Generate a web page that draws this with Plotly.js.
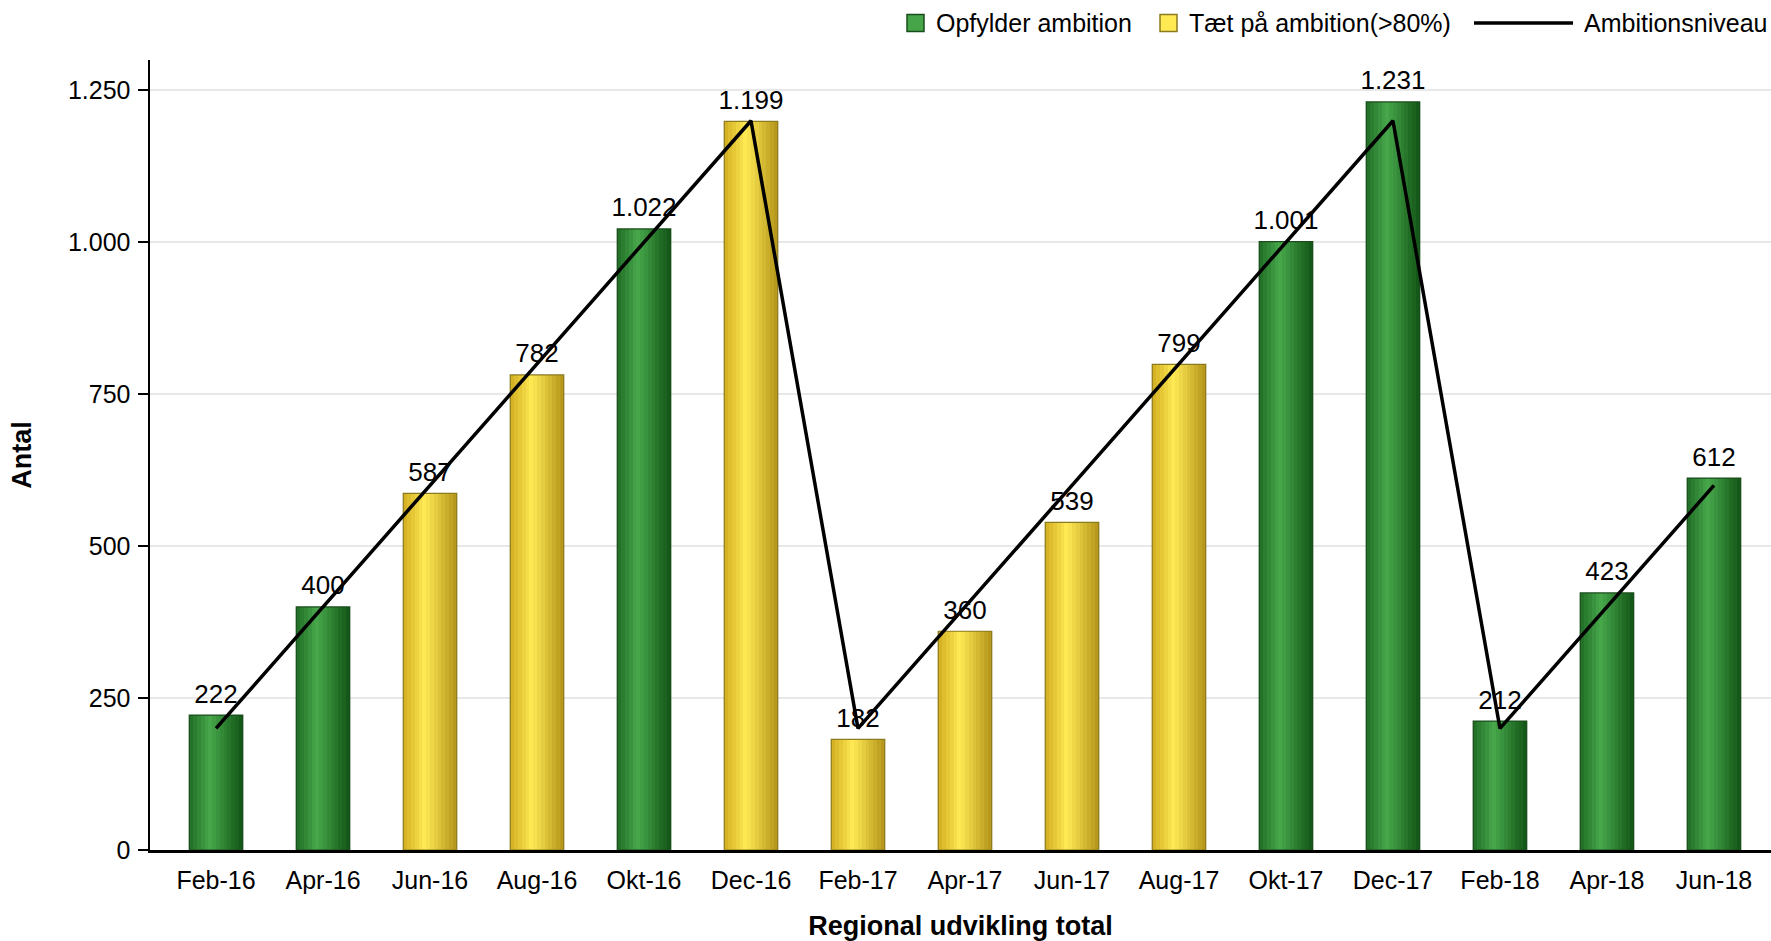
<!DOCTYPE html>
<html>
<head>
<meta charset="utf-8">
<script src="https://cdn.plot.ly/plotly-3.0.1.min.js"></script>
<style>
  html, body { margin: 0; padding: 0; background: #fff; }
  #chart { width: 1771px; height: 941px; }
</style>
</head>
<body>
<div id="chart"></div>
<script>
// Data
const categories = ['Feb-16', 'Apr-16', 'Jun-16', 'Aug-16', 'Okt-16', 'Dec-16', 'Feb-17', 'Apr-17',
                    'Jun-17', 'Aug-17', 'Okt-17', 'Dec-17', 'Feb-18', 'Apr-18', 'Jun-18'];
const antal = [222, 400, 587, 782, 1022, 1199, 182, 360, 539, 799, 1001, 1231, 212, 423, 612];
const ambition = [200, 400, 600, 800, 1000, 1200, 200, 400, 600, 800, 1000, 1200, 200, 400, 600];
const status = ['ok', 'ok', 'near', 'near', 'ok', 'near', 'near', 'near', 'near', 'near',
                'ok', 'ok', 'ok', 'ok', 'ok'];
const legendLabels = ['Opfylder ambition', 'Tæt på ambition(>80%)', 'Ambitionsniveau'];

// Layout in pixels
const W = 1771, H = 941;
const M = { l: 150, r: 0, t: 60, b: 91 };
const plotW = W - M.l - M.r;
const plotH = H - M.t - M.b;
const paperX = (px) => (px - M.l) / plotW;
const paperY = (py) => (H - M.b - py) / plotH;

// Gradient across each bar, left to right
const gradients = {
    ok:   [[0, [32, 108, 38]], [0.38, [72, 168, 75]], [1, [17, 84, 22]]],
    near: [[0, [210, 172, 32]], [0.4, [255, 234, 84]], [1, [180, 148, 26]]]
};
const outline = { ok: '#1a4d1c', near: '#8a7a20' };

function gradColor(stops, t) {
    for (let i = 1; i < stops.length; i++) {
        if (t <= stops[i][0]) {
            const [t0, c0] = stops[i - 1];
            const [t1, c1] = stops[i];
            const f = (t - t0) / (t1 - t0);
            const c = c0.map((v, k) => Math.round(v + (c1[k] - v) * f));
            return `rgb(${c[0]},${c[1]},${c[2]})`;
        }
    }
    const c = stops[stops.length - 1][1];
    return `rgb(${c[0]},${c[1]},${c[2]})`;
}

const barWidth = 0.5;
const strips = 14;
const traces = [];

for (let i = 0; i < strips; i++) {
    const t = (i + 0.5) / strips;
    traces.push({
        type: 'bar',
        x: categories,
        y: antal,
        width: barWidth / strips + 0.002,
        offset: -barWidth / 2 + i * barWidth / strips,
        marker: {
            color: status.map(s => gradColor(gradients[s], t)),
            line: { width: 0 }
        },
        hoverinfo: 'skip',
        showlegend: false
    });
}

// Bar outline
traces.push({
    type: 'bar',
    x: categories,
    y: antal,
    width: barWidth,
    offset: -barWidth / 2,
    marker: {
        color: 'rgba(0,0,0,0)',
        line: { width: 1.2, color: status.map(s => outline[s]) }
    },
    showlegend: false
});

// Data labels
traces.push({
    type: 'scatter',
    mode: 'markers+text',
    x: categories,
    y: antal,
    texttemplate: '%{y:,d}',
    textposition: 'top center',
    textfont: { size: 26, color: '#000' },
    marker: { size: 8, color: 'rgba(0,0,0,0)' },
    cliponaxis: false,
    hoverinfo: 'skip',
    showlegend: false
});

// Ambition line
traces.push({
    type: 'scatter',
    mode: 'lines',
    name: legendLabels[2],
    x: categories,
    y: ambition,
    line: { color: '#000', width: 3.5 },
    showlegend: false
});

// Custom legend
const legCy = 23;
const shapes = [];
const annotations = [];
function legendSquare(x0, s) {
    const size = 17;
    shapes.push({
        type: 'rect', xref: 'paper', yref: 'paper',
        x0: paperX(x0), x1: paperX(x0 + size),
        y0: paperY(legCy + size / 2), y1: paperY(legCy - size / 2),
        fillcolor: gradColor(gradients[s], 0.4),
        line: { color: outline[s], width: 1.5 }
    });
}
function legendText(x, txt) {
    annotations.push({
        xref: 'paper', yref: 'paper', x: paperX(x), y: paperY(legCy),
        xanchor: 'left', yanchor: 'middle', showarrow: false,
        text: txt, font: { size: 25, color: '#000' }
    });
}
legendSquare(907, 'ok');
legendText(934, legendLabels[0]);
legendSquare(1160, 'near');
legendText(1187, legendLabels[1]);
shapes.push({
    type: 'line', xref: 'paper', yref: 'paper',
    x0: paperX(1474), x1: paperX(1573), y0: paperY(legCy), y1: paperY(legCy),
    line: { color: '#000', width: 3.5 }
});
legendText(1582, legendLabels[2]);

const layout = {
    width: W,
    height: H,
    margin: M,
    separators: ',.',
    barmode: 'overlay',
    bargap: 0,
    paper_bgcolor: '#fff',
    plot_bgcolor: '#fff',
    font: { family: '"Liberation Sans", Arial, sans-serif', size: 25, color: '#000' },
    showlegend: false,
    xaxis: {
        type: 'category',
        range: [-0.617, 14.533],
        showline: true,
        linecolor: '#000',
        linewidth: 3,
        ticks: '',
        showgrid: false,
        tickfont: { size: 25 },
        ticklabelstandoff: 6,
        title: { text: 'Regional udvikling total', font: { size: 27, weight: 'bold' }, standoff: 25 },
        automargin: false
    },
    yaxis: {
        range: [0, 1300],
        tickvals: [0, 250, 500, 750, 1000, 1250],
        tickformat: ',d',
        showline: true,
        linecolor: '#000',
        linewidth: 2.5,
        ticks: 'outside',
        ticklen: 10,
        tickwidth: 2,
        tickcolor: '#000',
        ticklabelstandoff: 2,
        showgrid: true,
        gridcolor: '#e8e8e8',
        gridwidth: 2,
        zeroline: false,
        tickfont: { size: 25 },
        title: { text: 'Antal', font: { size: 27, weight: 'bold' }, standoff: 29 },
        automargin: false
    },
    shapes: shapes,
    annotations: annotations
};

Plotly.newPlot('chart', traces, layout, { displayModeBar: false, staticPlot: true });
</script>
</body>
</html>
